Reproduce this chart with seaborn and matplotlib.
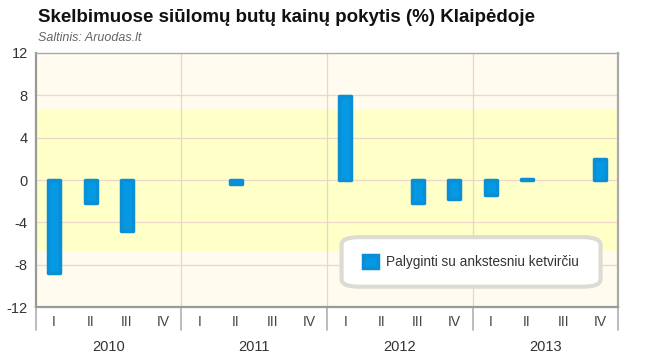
import matplotlib.pyplot as plt
import matplotlib.transforms as mtransforms
from matplotlib.patches import FancyBboxPatch
import seaborn as sns
import pandas as pd
import numpy as np

years = ['2010', '2011', '2012', '2013']
quarters = ['I', 'II', 'III', 'IV']
change = [-8.8, -2.2, -4.8, np.nan,
          np.nan, -0.4, np.nan, np.nan,
          7.9, np.nan, -2.2, -1.8,
          -1.4, 0.1, np.nan, 2.0]
band = 6.7
legend_label = 'Palyginti su ankstesniu ketvirčiu'

df = pd.DataFrame({
    'period': [y + ' ' + q for y in years for q in quarters],
    'change': change,
})

sns.set_style('white')
plt.rcParams['font.family'] = ['Liberation Sans', 'DejaVu Sans']
plt.rcParams['axes.unicode_minus'] = False

fig = plt.figure(figsize=(6.46, 3.59), dpi=100)
ax = fig.add_axes([0.0557, 0.1448, 0.9010, 0.7076])
ax.set_facecolor('#fffbee')

bar_color = '#0599e4'
sns.barplot(data=df, x='period', y='change', color=bar_color, width=0.33,
            saturation=1, label=legend_label, ax=ax, zorder=3)
for p in ax.patches:
    p.set_edgecolor('#0a8fd6')
    p.set_linewidth(2.5)
    p.set_joinstyle('round')

ax.axhspan(-band, band, color='#ffffc8', zorder=0, lw=0)
ax.set_ylim(-12, 12)
ax.set_xlim(-0.5, 15.5)
ax.set_yticks(np.arange(-12, 13, 4))
for v in np.arange(-8, 12, 4):
    ax.axhline(v, color='#efd6cc', lw=0.9, zorder=1)
for xb in [3.5, 7.5, 11.5]:
    ax.axvline(xb, color='#e6d6cc', lw=0.9, zorder=1)

ax.set_xlabel('')
ax.set_ylabel('')
ax.set_xticks(range(16))
ax.set_xticklabels(quarters * 4, fontsize=10, color='#444444')
ax.tick_params(axis='x', length=0, pad=6)
ax.tick_params(axis='y', labelsize=10.5, colors='#333333', length=0, pad=6)
ax.set_xticks(np.arange(0.5, 15, 1), minor=True)
ax.tick_params(axis='x', which='minor', length=5, color='#999999', width=1)

for s in ax.spines.values():
    s.set_color('#aaaaaa')
    s.set_linewidth(1)
ax.spines['left'].set_linewidth(1.6)
ax.spines['bottom'].set_linewidth(1.6)
ax.spines['left'].set_color('#999999')
ax.spines['bottom'].set_color('#999999')
ax.spines['right'].set_linewidth(1.6)

trans = mtransforms.blended_transform_factory(ax.transData, ax.transAxes)
for xb in [-0.5, 3.5, 7.5, 11.5, 15.5]:
    ax.plot([xb, xb], [0, -0.09], transform=trans, color='#b0b0b0', lw=1.2,
            clip_on=False)
for i, y in enumerate(years):
    ax.text(i * 4 + 1.5, -0.13, y, transform=trans, ha='center', va='top',
            fontsize=10.5, color='#333333')

# legend box
box = FancyBboxPatch((0.525, 0.08), 0.445, 0.195, transform=ax.transAxes,
                     boxstyle='round,pad=0,rounding_size=0.03',
                     facecolor='white', edgecolor='#dcdcd4', lw=3, zorder=5)
ax.add_patch(box)
leg = ax.legend(loc='center', bbox_to_anchor=(0.748, 0.178), frameon=False,
                fontsize=9.8, handlelength=1.1, handleheight=1.1,
                handletextpad=0.6)
leg.set_zorder(6)
for t in leg.get_texts():
    t.set_color('#333333')

fig.text(0.059, 0.95, 'Skelbimuose siūlomų butų kainų pokytis (%) Klaipėdoje',
         fontsize=13.5, fontweight='bold', color='#111111', va='center')
fig.text(0.059, 0.895, 'Saltinis: Aruodas.lt', fontsize=9, style='italic',
         color='#666666', va='center')

fig.savefig('out.png', dpi=100)
